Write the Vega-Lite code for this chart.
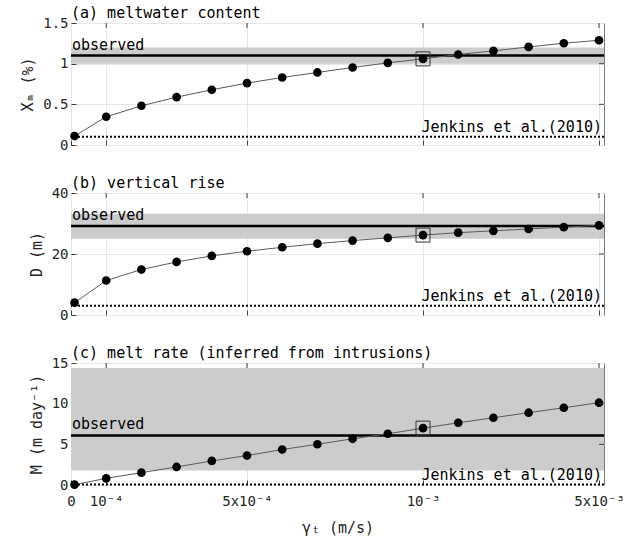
{
  "$schema": "https://vega.github.io/schema/vega-lite/v6.json",
  "background": "white",
  "padding": {"left": 20, "top": 5, "right": 5, "bottom": 5},
  "bounds": "flush",
  "spacing": 48,
  "config": {
    "font": "DejaVu Sans Mono",
    "view": {"stroke": "#7a7a7a", "strokeWidth": 1},
    "axis": {
      "labelFont": "DejaVu Sans Mono", "labelFontSize": 14, "labelColor": "#262626",
      "titleFont": "DejaVu Sans Mono", "titleFontSize": 15, "titleFontWeight": "normal", "titleColor": "#262626",
      "gridColor": "#e6e6e6", "gridWidth": 1, "domain": false, "tickColor": "#404040", "tickSize": -5,
      "labelPadding": 8, "titlePadding": 7, "labelFlush": false, "labelOverlap": false
    },
    "axisX": {"labelPadding": 14, "titlePadding": 12},
    "title": {"font": "DejaVu Sans Mono", "fontSize": 15, "fontWeight": "normal", "anchor": "start", "color": "#000000", "offset": -5, "frame": "group"}
  },
  "datasets": {
    "curve": [
      {"gamma": 0.00001, "Xm": 0.11, "D": 4.05, "M": 0.04},
      {"gamma": 0.0001, "Xm": 0.347, "D": 11.3, "M": 0.82},
      {"gamma": 0.0002, "Xm": 0.482, "D": 14.9, "M": 1.52},
      {"gamma": 0.0003, "Xm": 0.589, "D": 17.4, "M": 2.22},
      {"gamma": 0.0004, "Xm": 0.679, "D": 19.4, "M": 2.96},
      {"gamma": 0.0005, "Xm": 0.761, "D": 20.9, "M": 3.62},
      {"gamma": 0.0006, "Xm": 0.83, "D": 22.2, "M": 4.36},
      {"gamma": 0.0007, "Xm": 0.892, "D": 23.4, "M": 5.01},
      {"gamma": 0.0008, "Xm": 0.953, "D": 24.4, "M": 5.68},
      {"gamma": 0.0009, "Xm": 1.01, "D": 25.3, "M": 6.3},
      {"gamma": 0.001, "Xm": 1.059, "D": 26.2, "M": 6.99},
      {"gamma": 0.0018, "Xm": 1.113, "D": 27.0, "M": 7.65},
      {"gamma": 0.0026, "Xm": 1.157, "D": 27.6, "M": 8.27},
      {"gamma": 0.0034, "Xm": 1.206, "D": 28.2, "M": 8.89},
      {"gamma": 0.0042, "Xm": 1.251, "D": 28.8, "M": 9.5},
      {"gamma": 0.005, "Xm": 1.288, "D": 29.4, "M": 10.12}
    ],
    "topticks": [{"gamma": 0.0001}, {"gamma": 0.0005}, {"gamma": 0.001}, {"gamma": 0.005}]
  },
  "vconcat": [
    {
      "width": 533, "height": 122,
      "title": "(a) meltwater content",
      "data": {"values": [{"lo": 1.0, "hi": 1.2, "obs": 1.1, "jen": 0.1, "left": 0, "right": 0.005114, "top": 1.5}]},
      "layer": [
        {"mark": {"type": "rect", "color": "#cccccc"},
         "encoding": {
           "y": {"field": "lo", "type": "quantitative", "scale": {"domain": [0, 1.5], "nice": false}, "axis": {"values": [0, 0.5, 1, 1.5], "format": "~r", "title": "Xₘ (%)", "grid": true}},
           "y2": {"field": "hi"}}},
        {"mark": {"type": "rule", "color": "#000000", "strokeWidth": 2.5},
         "encoding": {"y": {"field": "obs", "type": "quantitative", "axis": {"title": "Xₘ (%)"}}}},
        {"mark": {"type": "rule", "color": "#000000", "strokeWidth": 2, "strokeDash": [2, 2]},
         "encoding": {"y": {"field": "jen", "type": "quantitative", "axis": {"title": "Xₘ (%)"}}}},
        {"data": {"name": "curve"}, "mark": {"type": "line", "color": "#5a5a5a", "strokeWidth": 1},
         "encoding": {
           "x": {"field": "gamma", "type": "quantitative", "scale": {"domain": [0, 0.001, 0.005114], "range": [0, 352, 533], "nice": false, "zero": false}, "axis": {"values": [0, 0.0001, 0.0005, 0.001, 0.005], "labels": false, "title": null, "grid": true}},
           "y": {"field": "Xm", "type": "quantitative", "axis": {"title": "Xₘ (%)"}}}},
        {"data": {"name": "curve"}, "mark": {"type": "circle", "color": "#000000", "size": 75, "opacity": 1},
         "encoding": {
           "x": {"field": "gamma", "type": "quantitative", "axis": {"title": null}},
           "y": {"field": "Xm", "type": "quantitative", "axis": {"title": "Xₘ (%)"}}}},
        {"data": {"name": "curve"}, "transform": [{"filter": "datum.gamma === 0.001"}],
         "mark": {"type": "point", "shape": "square", "size": 196, "filled": false, "stroke": "#333333", "strokeWidth": 1, "opacity": 1},
         "encoding": {
           "x": {"field": "gamma", "type": "quantitative", "axis": {"title": null}},
           "y": {"field": "Xm", "type": "quantitative", "axis": {"title": "Xₘ (%)"}}}},
        {"data": {"name": "topticks"}, "mark": {"type": "tick", "orient": "vertical", "size": 5, "thickness": 1, "color": "#404040", "yOffset": 2.5, "opacity": 1},
         "encoding": {
           "x": {"field": "gamma", "type": "quantitative", "axis": {"title": null}},
           "y": {"datum": 1.5, "type": "quantitative", "axis": {"title": "Xₘ (%)"}}}},
        {"data": {"values": [{"v": 0.5}, {"v": 1}]}, "mark": {"type": "tick", "orient": "horizontal", "size": 5, "thickness": 1, "color": "#404040", "xOffset": -2.5, "opacity": 1},
         "encoding": {
           "x": {"datum": 0.005114, "type": "quantitative", "axis": {"title": null}},
           "y": {"field": "v", "type": "quantitative", "axis": {"title": "Xₘ (%)"}}}},
        {"mark": {"type": "text", "text": "observed", "align": "left", "baseline": "bottom", "dx": 1, "dy": -3, "fontSize": 15, "color": "#000000"},
         "encoding": {
           "x": {"field": "left", "type": "quantitative", "axis": {"title": null}},
           "y": {"field": "obs", "type": "quantitative", "axis": {"title": "Xₘ (%)"}}}},
        {"mark": {"type": "text", "text": "Jenkins et al.(2010)", "align": "right", "baseline": "bottom", "dx": -2, "dy": -2, "fontSize": 15, "color": "#000000"},
         "encoding": {
           "x": {"field": "right", "type": "quantitative", "axis": {"title": null}},
           "y": {"field": "jen", "type": "quantitative", "axis": {"title": "Xₘ (%)"}}}}
      ]
    },
    {
      "width": 533, "height": 122,
      "title": "(b) vertical rise",
      "data": {"values": [{"lo": 25.0, "hi": 33.2, "obs": 29.2, "jen": 3.0, "left": 0, "right": 0.005114}]},
      "layer": [
        {"mark": {"type": "rect", "color": "#cccccc"},
         "encoding": {
           "y": {"field": "lo", "type": "quantitative", "scale": {"domain": [0, 40], "nice": false}, "axis": {"values": [0, 20, 40], "format": "~r", "title": "D (m)", "grid": true}},
           "y2": {"field": "hi"}}},
        {"mark": {"type": "rule", "color": "#000000", "strokeWidth": 2.5},
         "encoding": {"y": {"field": "obs", "type": "quantitative", "axis": {"title": "D (m)"}}}},
        {"mark": {"type": "rule", "color": "#000000", "strokeWidth": 2, "strokeDash": [2, 2]},
         "encoding": {"y": {"field": "jen", "type": "quantitative", "axis": {"title": "D (m)"}}}},
        {"data": {"name": "curve"}, "mark": {"type": "line", "color": "#5a5a5a", "strokeWidth": 1},
         "encoding": {
           "x": {"field": "gamma", "type": "quantitative", "scale": {"domain": [0, 0.001, 0.005114], "range": [0, 352, 533], "nice": false, "zero": false}, "axis": {"values": [0, 0.0001, 0.0005, 0.001, 0.005], "labels": false, "title": null, "grid": true}},
           "y": {"field": "D", "type": "quantitative", "axis": {"title": "D (m)"}}}},
        {"data": {"name": "curve"}, "mark": {"type": "circle", "color": "#000000", "size": 75, "opacity": 1},
         "encoding": {
           "x": {"field": "gamma", "type": "quantitative", "axis": {"title": null}},
           "y": {"field": "D", "type": "quantitative", "axis": {"title": "D (m)"}}}},
        {"data": {"name": "curve"}, "transform": [{"filter": "datum.gamma === 0.001"}],
         "mark": {"type": "point", "shape": "square", "size": 196, "filled": false, "stroke": "#333333", "strokeWidth": 1, "opacity": 1},
         "encoding": {
           "x": {"field": "gamma", "type": "quantitative", "axis": {"title": null}},
           "y": {"field": "D", "type": "quantitative", "axis": {"title": "D (m)"}}}},
        {"data": {"name": "topticks"}, "mark": {"type": "tick", "orient": "vertical", "size": 5, "thickness": 1, "color": "#404040", "yOffset": 2.5, "opacity": 1},
         "encoding": {
           "x": {"field": "gamma", "type": "quantitative", "axis": {"title": null}},
           "y": {"datum": 40, "type": "quantitative", "axis": {"title": "D (m)"}}}},
        {"data": {"values": [{"v": 20}]}, "mark": {"type": "tick", "orient": "horizontal", "size": 5, "thickness": 1, "color": "#404040", "xOffset": -2.5, "opacity": 1},
         "encoding": {
           "x": {"datum": 0.005114, "type": "quantitative", "axis": {"title": null}},
           "y": {"field": "v", "type": "quantitative", "axis": {"title": "D (m)"}}}},
        {"mark": {"type": "text", "text": "observed", "align": "left", "baseline": "bottom", "dx": 1, "dy": -3, "fontSize": 15, "color": "#000000"},
         "encoding": {
           "x": {"field": "left", "type": "quantitative", "axis": {"title": null}},
           "y": {"field": "obs", "type": "quantitative", "axis": {"title": "D (m)"}}}},
        {"mark": {"type": "text", "text": "Jenkins et al.(2010)", "align": "right", "baseline": "bottom", "dx": -2, "dy": -2, "fontSize": 15, "color": "#000000"},
         "encoding": {
           "x": {"field": "right", "type": "quantitative", "axis": {"title": null}},
           "y": {"field": "jen", "type": "quantitative", "axis": {"title": "D (m)"}}}}
      ]
    },
    {
      "width": 533, "height": 122,
      "title": "(c) melt rate (inferred from intrusions)",
      "data": {"values": [{"lo": 1.77, "hi": 14.4, "obs": 6.09, "jen": 0.05, "left": 0, "right": 0.005114}]},
      "layer": [
        {"mark": {"type": "rect", "color": "#cccccc"},
         "encoding": {
           "y": {"field": "lo", "type": "quantitative", "scale": {"domain": [0, 15], "nice": false}, "axis": {"values": [0, 5, 10, 15], "format": "~r", "title": "M (m day⁻¹)", "grid": true}},
           "y2": {"field": "hi"}}},
        {"mark": {"type": "rule", "color": "#000000", "strokeWidth": 2.5},
         "encoding": {"y": {"field": "obs", "type": "quantitative", "axis": {"title": "M (m day⁻¹)"}}}},
        {"mark": {"type": "rule", "color": "#000000", "strokeWidth": 2, "strokeDash": [2, 2]},
         "encoding": {"y": {"field": "jen", "type": "quantitative", "axis": {"title": "M (m day⁻¹)"}}}},
        {"data": {"name": "curve"}, "mark": {"type": "line", "color": "#5a5a5a", "strokeWidth": 1},
         "encoding": {
           "x": {"field": "gamma", "type": "quantitative", "scale": {"domain": [0, 0.001, 0.005114], "range": [0, 352, 533], "nice": false, "zero": false}, "axis": {"values": [0, 0.0001, 0.0005, 0.001, 0.005], "labels": true, "title": "γₜ (m/s)", "grid": true, "labelExpr": "datum.value === 0 ? '0' : datum.value === 0.0001 ? '10⁻⁴' : datum.value === 0.0005 ? '5x10⁻⁴' : datum.value === 0.001 ? '10⁻³' : '5x10⁻³'"}},
           "y": {"field": "M", "type": "quantitative", "axis": {"title": "M (m day⁻¹)"}}}},
        {"data": {"name": "curve"}, "mark": {"type": "circle", "color": "#000000", "size": 75, "opacity": 1},
         "encoding": {
           "x": {"field": "gamma", "type": "quantitative", "axis": {"title": "γₜ (m/s)"}},
           "y": {"field": "M", "type": "quantitative", "axis": {"title": "M (m day⁻¹)"}}}},
        {"data": {"name": "curve"}, "transform": [{"filter": "datum.gamma === 0.001"}],
         "mark": {"type": "point", "shape": "square", "size": 196, "filled": false, "stroke": "#333333", "strokeWidth": 1, "opacity": 1},
         "encoding": {
           "x": {"field": "gamma", "type": "quantitative", "axis": {"title": "γₜ (m/s)"}},
           "y": {"field": "M", "type": "quantitative", "axis": {"title": "M (m day⁻¹)"}}}},
        {"data": {"name": "topticks"}, "mark": {"type": "tick", "orient": "vertical", "size": 5, "thickness": 1, "color": "#404040", "yOffset": 2.5, "opacity": 1},
         "encoding": {
           "x": {"field": "gamma", "type": "quantitative", "axis": {"title": "γₜ (m/s)"}},
           "y": {"datum": 15, "type": "quantitative", "axis": {"title": "M (m day⁻¹)"}}}},
        {"data": {"values": [{"v": 5}, {"v": 10}]}, "mark": {"type": "tick", "orient": "horizontal", "size": 5, "thickness": 1, "color": "#404040", "xOffset": -2.5, "opacity": 1},
         "encoding": {
           "x": {"datum": 0.005114, "type": "quantitative", "axis": {"title": "γₜ (m/s)"}},
           "y": {"field": "v", "type": "quantitative", "axis": {"title": "M (m day⁻¹)"}}}},
        {"mark": {"type": "text", "text": "observed", "align": "left", "baseline": "bottom", "dx": 1, "dy": -3, "fontSize": 15, "color": "#000000"},
         "encoding": {
           "x": {"field": "left", "type": "quantitative", "axis": {"title": "γₜ (m/s)"}},
           "y": {"field": "obs", "type": "quantitative", "axis": {"title": "M (m day⁻¹)"}}}},
        {"mark": {"type": "text", "text": "Jenkins et al.(2010)", "align": "right", "baseline": "bottom", "dx": -2, "dy": -2, "fontSize": 15, "color": "#000000"},
         "encoding": {
           "x": {"field": "right", "type": "quantitative", "axis": {"title": "γₜ (m/s)"}},
           "y": {"field": "jen", "type": "quantitative", "axis": {"title": "M (m day⁻¹)"}}}}
      ]
    }
  ]
}
